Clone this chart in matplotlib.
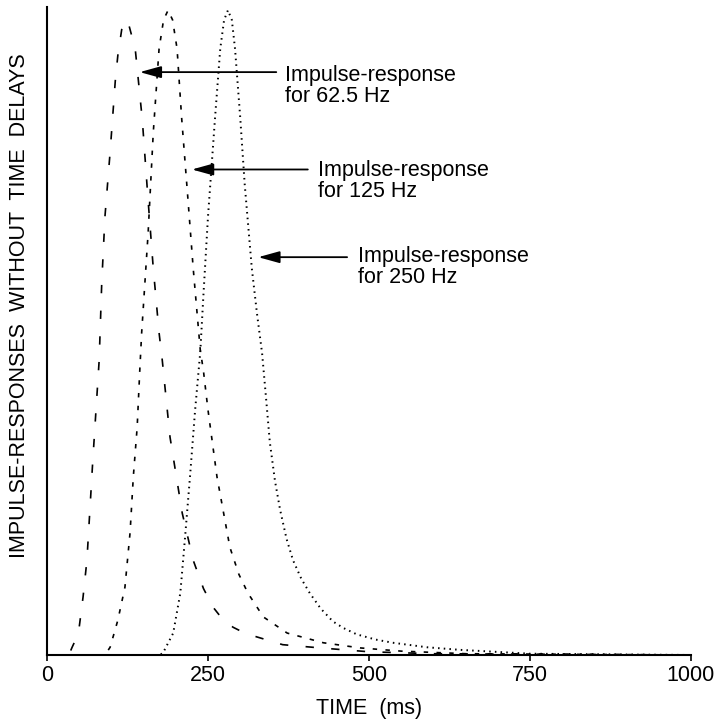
import matplotlib
matplotlib.use("Agg")
import matplotlib.pyplot as plt

plt.rcParams['font.family'] = ['Liberation Sans', 'DejaVu Sans']
plt.rcParams['lines.scale_dashes'] = False

# impulse responses (time in ms, relative amplitude)
t_62 = [0, 30, 36, 39, 45, 50, 56, 62, 71, 81, 85, 90, 98, 106, 110, 116, 125,
        137, 148, 157, 165, 174, 179, 191, 210, 227, 243, 258, 273, 289, 307,
        326, 366, 424, 500, 600, 1000]
v_62 = [0, 0, 0.005, 0.012, 0.025, 0.043, 0.09, 0.147, 0.30, 0.457, 0.577,
        0.68, 0.78, 0.89, 0.93, 0.97, 0.985,
        0.94, 0.83, 0.705, 0.60, 0.50, 0.457, 0.338, 0.22, 0.147, 0.103, 0.074,
        0.055, 0.043, 0.034, 0.028, 0.016, 0.011, 0.005, 0.002, 0]

t_125 = [0, 90, 98, 110, 121, 129, 134, 140, 144, 147, 157, 165, 174, 181, 188,
         195, 202, 209, 219, 227, 238, 243, 250, 264, 284, 298, 312, 336, 373,
         429, 486, 550, 650, 1000]
v_125 = [0, 0, 0.012, 0.054, 0.105, 0.19, 0.276, 0.353, 0.44, 0.50, 0.654, 0.81,
         0.94, 0.985, 1.0, 0.985, 0.94, 0.834, 0.705, 0.60, 0.473, 0.44, 0.38,
         0.276, 0.167, 0.125, 0.096, 0.059, 0.034, 0.019, 0.011, 0.006, 0.002, 0]

t_250 = [0, 175, 180, 196, 207, 214, 222, 230, 238, 243, 250, 261, 269, 275, 281,
         287, 292, 300, 307, 318, 326, 334, 340, 346, 354, 362, 372, 382, 395,
         408, 425, 444, 460, 481, 510, 537, 590, 641, 750, 1000]
v_250 = [0, 0, 0.003, 0.034, 0.096, 0.178, 0.276, 0.38, 0.47, 0.56, 0.68, 0.834,
         0.94, 0.985, 1.0, 0.985, 0.94, 0.834, 0.73, 0.60, 0.53, 0.468, 0.40,
         0.33, 0.27, 0.225, 0.18, 0.147, 0.118, 0.096, 0.072, 0.052, 0.042,
         0.032, 0.024, 0.019, 0.012, 0.008, 0.002, 0]

labels = ["Impulse-response", "for 62.5 Hz", "for 125 Hz", "for 250 Hz"]
xticks = [0, 250, 500, 750, 1000]

fig = plt.figure(figsize=(7.19, 7.23), dpi=100)
ax = fig.add_axes([47 / 719, 68 / 723, 644 / 719, 648 / 723])

ax.plot(t_62, v_62, color='black', lw=1.2, dashes=(6, 12.5))
ax.plot(t_125, v_125, color='black', lw=1.2, dashes=(3.2, 6))
ax.plot(t_250, v_250, color='black', lw=1.4, dashes=(1.1, 3.0))

ax.set_xlim(0, 1000)
ax.set_ylim(0, 1.005)
ax.set_xticks(xticks)
ax.set_xticklabels([str(x) for x in xticks], fontsize=15.5)
ax.set_yticks([])
ax.tick_params(axis='x', direction='out', length=4, width=1.2, pad=3)
for s in ['top', 'right']:
    ax.spines[s].set_visible(False)
for s in ['left', 'bottom']:
    ax.spines[s].set_linewidth(1.5)

# arrows + labels: (tip x, tail x, arrow y, text x, line1 y, line2 y, second line)
notes = [
    (144, 356, 0.904, 370, 0.891, 0.857, labels[1]),
    (225, 405, 0.753, 421, 0.743, 0.710, labels[2]),
    (328, 466, 0.617, 483, 0.609, 0.577, labels[3]),
]
for tip, tail, ya, tx, y1, y2, second in notes:
    ax.annotate("", xy=(tip, ya), xytext=(tail, ya),
                arrowprops=dict(arrowstyle='-|>,head_length=1.3,head_width=0.36',
                                mutation_scale=10, color='black', lw=1.3,
                                shrinkA=0, shrinkB=0))
    ax.text(tx, y1, labels[0], fontsize=15.5, va='baseline', ha='left')
    ax.text(tx, y2, second, fontsize=15.5, va='baseline', ha='left')

fig.text(20 / 719, 1 - 306 / 723, "IMPULSE-RESPONSES  WITHOUT  TIME  DELAYS",
         rotation=90, ha='center', va='center', fontsize=15.5)
fig.text(369 / 719, 1 - 714 / 723, "TIME  (ms)", ha='center', va='baseline',
         fontsize=15.5)

fig.savefig("out.png", dpi=100)
